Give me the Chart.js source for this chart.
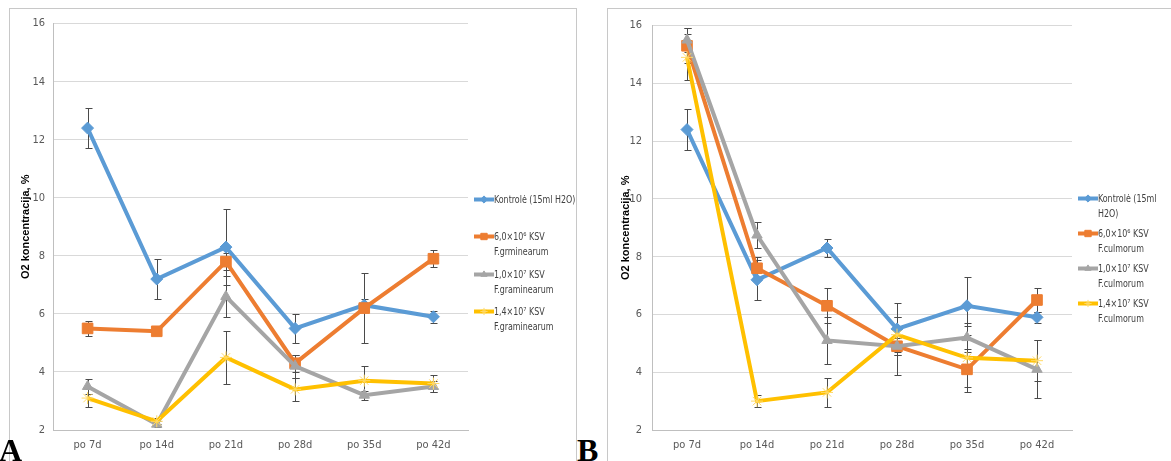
<!DOCTYPE html>
<html>
<head>
<meta charset="utf-8">
<script src="https://cdn.jsdelivr.net/npm/chart.js@4.4.0/dist/chart.umd.min.js"></script>
<style>
  body{margin:0;width:1171px;height:461px;overflow:hidden;background:#fff;position:relative;
       font-family:"Liberation Sans Narrow","DejaVu Sans Condensed",sans-serif;}
  .panel{position:absolute;top:8px;height:470px;border:1px solid #c8c8c8;box-sizing:border-box;}
  #panelA{left:9px;width:568px;}
  #panelB{left:607px;width:580px;}
  canvas.plot{position:absolute;top:9px;}
  .leg{position:absolute;font-size:10.5px;color:#404040;line-height:15px;white-space:nowrap;}
  .leg canvas{position:absolute;left:0;top:0;}
  .leg div{position:absolute;left:20px;top:0;transform:scaleX(0.84);transform-origin:0 0;}
  .letter{position:absolute;top:434px;font:bold 32px "Liberation Serif","DejaVu Serif",serif;line-height:32px;color:#000;}
</style>
</head>
<body>
<div class="panel" id="panelA"></div>
<div class="panel" id="panelB"></div>
<canvas class="plot" id="myChart" width="566" height="452" style="left:10px"></canvas>
<canvas class="plot" id="myChart2" width="563" height="452" style="left:608px"></canvas>
<div id="legendA"></div>
<div id="legendB"></div>
<div class="letter" style="left:-1px">A</div>
<div class="letter" style="left:577px">B</div>

<script>
// sampling days
const categories = ["po 7d", "po 14d", "po 21d", "po 28d", "po 35d", "po 42d"];

// y axis ticks (O2 %)
const yTicks = [2, 4, 6, 8, 10, 12, 14, 16];

// panel A - F.graminearum
const kontroleA = [12.4, 7.2, 8.3, 5.5, 6.3, 5.9];
const grm6A     = [5.5, 5.4, 7.8, 4.3, 6.2, 7.9];
const grm1e7A   = [3.5, 2.2, 6.6, 4.2, 3.2, 3.5];
const grm14e7A  = [3.1, 2.3, 4.5, 3.4, 3.7, 3.6];

const kontroleErrA = [0.7, 0.7, 1.3, 0.5, 0.2, 0.2];
const grm6ErrA     = [0.25, 0.1, 0.3, 0.3, 1.2, 0.3];
const grm1e7ErrA   = [0.25, 0.1, 0.7, 0.4, 0.15, 0.2];
const grm14e7ErrA  = [0.3, 0.1, 0.9, 0.4, 0.5, 0.3];

// panel B - F.culmorum
const kontroleB = [12.4, 7.2, 8.3, 5.5, 6.3, 5.9];
const clm6B     = [15.3, 7.6, 6.3, 4.9, 4.1, 6.5];
const clm1e7B   = [15.5, 8.75, 5.1, 4.9, 5.2, 4.1];
const clm14e7B  = [14.9, 3.0, 3.3, 5.3, 4.5, 4.4];

const kontroleErrB = [0.7, 0.7, 0.3, 0.9, 1.0, 0.2];
const clm6ErrB     = [0.6, 0.4, 0.6, 0.3, 0.6, 0.4];
const clm1e7ErrB   = [0.4, 0.45, 0.8, 1.0, 0.4, 1.0];
const clm14e7ErrB  = [0.8, 0.2, 0.5, 0.6, 1.2, 0.7];

// legend texts, one array entry per printed line
const seriesNamesA = [
  ["Kontrolė (15ml H2O)"],
  ["6,0×10⁶  KSV", "F.grminearum"],
  ["1,0×10⁷ KSV", "F.graminearum"],
  ["1,4×10⁷ KSV", "F.graminearum"]
];
const seriesNamesB = [
  ["Kontrolė (15ml", "H2O)"],
  ["6,0×10⁶  KSV", "F.culmorum"],
  ["1,0×10⁷ KSV", "F.culmorum"],
  ["1,4×10⁷ KSV", "F.culmorum"]
];

const yTitle = "O2 koncentracija, %";

const tickFont = "'Liberation Sans Narrow', 'DejaVu Sans Condensed', 'Liberation Sans', sans-serif";

const colors = ["#5B9BD5", "#ED7D31", "#A5A5A5", "#FFC000"];
const markers = [
  {style: "rectRot", radius: 6},
  {style: "rect", radius: 7.5},
  {style: "triangle", radius: 6},
  {style: "star", radius: 6}
];

// error bars from the dataset's own errors array
const errorBars = {
  id: "errorBars",
  beforeDatasetsDraw(chart) {
    const ctx = chart.ctx;
    const y = chart.scales.y;
    ctx.save();
    ctx.strokeStyle = "#4a4a4a";
    ctx.lineWidth = 1;
    chart.data.datasets.forEach((ds, i) => {
      const meta = chart.getDatasetMeta(i);
      meta.data.forEach((pt, j) => {
        const e = ds.errors[j];
        const top = Math.round(y.getPixelForValue(ds.data[j] + e)) + 0.5;
        const bot = Math.round(y.getPixelForValue(ds.data[j] - e)) + 0.5;
        const x = Math.round(pt.x) + 0.5;
        ctx.beginPath();
        ctx.moveTo(x, top); ctx.lineTo(x, bot);
        ctx.moveTo(x - 3, top); ctx.lineTo(x + 4, top);
        ctx.moveTo(x - 3, bot); ctx.lineTo(x + 4, bot);
        ctx.stroke();
      });
    });
    ctx.restore();
  }
};

function makeDatasets(names, values, errs) {
  return values.map((v, i) => ({
    label: names[i].join(" "),
    data: v,
    errors: errs[i],
    borderColor: colors[i],
    backgroundColor: i == 3 ? "#FFE699" : colors[i],
    pointBorderColor: i == 3 ? "#FFD966" : colors[i],
    borderWidth: 4,
    pointStyle: markers[i].style,
    pointRadius: markers[i].radius,
    pointBorderWidth: 1,
    tension: 0,
    order: 4 - i
  }));
}

function makeOptions(axisW, titlePad, tickPad, padRight) {
  return {
    responsive: false,
    animation: false,
    layout: {padding: {left: 0, top: 13, right: padRight, bottom: 0}},
    plugins: {legend: {display: false}, tooltip: {enabled: false}},
    scales: {
      x: {
        offset: true,
        grid: {display: false, drawTicks: false, offset: true},
        border: {color: "#bfbfbf"},
        ticks: {color: "#595959", padding: 9, font: {family: tickFont, size: 11}},
        afterFit: s => { s.height = 31; }
      },
      y: {
        min: 2,
        max: 16,
        afterBuildTicks: s => { s.ticks = yTicks.map(v => ({value: v})); },
        grid: {color: "#d9d9d9", drawTicks: false},
        border: {color: "#bfbfbf"},
        ticks: {color: "#595959", padding: tickPad, font: {family: tickFont, size: 11}},
        title: {display: true, text: yTitle, color: "#000", padding: {top: titlePad},
                font: {family: "'Liberation Sans', Arial, sans-serif", size: 11, weight: "bold"}},
        afterFit: s => { s.width = axisW; }
      }
    }
  };
}

// html legend, marker drawn with chart.js point helper
function buildLegend(el, names, left, top, step) {
  names.forEach((lines, i) => {
    const box = document.createElement("div");
    box.className = "leg";
    box.style.left = left + "px";
    box.style.top = (top + i * step) + "px";
    const c = document.createElement("canvas");
    c.width = 20; c.height = 15;
    const g = c.getContext("2d");
    g.strokeStyle = colors[i];
    g.lineWidth = 4;
    g.beginPath(); g.moveTo(0, 7.5); g.lineTo(20, 7.5); g.stroke();
    g.fillStyle = i == 3 ? "#FFE699" : colors[i];
    g.strokeStyle = i == 3 ? "#FFD966" : colors[i];
    g.lineWidth = 1;
    if (Chart.helpers && Chart.helpers.drawPoint) {
      Chart.helpers.drawPoint(g, {pointStyle: markers[i].style, radius: markers[i].radius * 0.6, rotation: 0, borderWidth: 1}, 10, 7.5);
    }
    box.appendChild(c);
    const t = document.createElement("div");
    t.innerHTML = lines.join("<br>");
    box.appendChild(t);
    el.appendChild(box);
  });
}

let myChart1 = document.getElementById("myChart").getContext("2d");
let chart1 = new Chart(myChart1, {
  type: "line",
  data: {
    labels: categories,
    datasets: makeDatasets(seriesNamesA,
      [kontroleA, grm6A, grm1e7A, grm14e7A],
      [kontroleErrA, grm6ErrA, grm1e7ErrA, grm14e7ErrA])
  },
  options: makeOptions(43, 9, 8, 108),
  plugins: [errorBars]
});

let myChart2 = document.getElementById("myChart2").getContext("2d");
let chart2 = new Chart(myChart2, {
  type: "line",
  data: {
    labels: categories,
    datasets: makeDatasets(seriesNamesB,
      [kontroleB, clm6B, clm1e7B, clm14e7B],
      [kontroleErrB, clm6ErrB, clm1e7ErrB, clm14e7ErrB])
  },
  options: makeOptions(44, 11, 10, 99),
  plugins: [errorBars]
});

buildLegend(document.getElementById("legendA"), seriesNamesA, 474, 192, 37.4);
buildLegend(document.getElementById("legendB"), seriesNamesB, 1078, 191, 35);
</script>
</body>
</html>
